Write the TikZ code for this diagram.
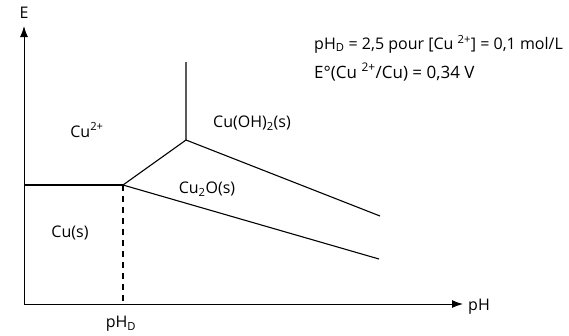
\documentclass[tikz,border=0pt]{standalone}
\usepackage{fontspec}
\setmainfont{Open Sans}
\usetikzlibrary{arrows.meta}
\begin{document}
\begin{tikzpicture}[x=1pt,y=-1pt,
  lbl/.style={font=\fontsize{16}{19}\selectfont, inner sep=0pt},
  top/.style={font=\fontsize{17}{20}\selectfont, inner sep=0pt, anchor=west},
  bound/.style={line width=1.1pt, black},
  axis/.style={line width=1pt, -{Latex[length=11pt,width=8pt]}}]
\useasboundingbox (0,0) rectangle (569,335);
\coordinate (O) at (24,304);
\coordinate (Ytip) at (24,26);
\coordinate (Xtip) at (463,304);
\coordinate (A) at (24,185);
\coordinate (D) at (123,185);
\coordinate (Dbot) at (123,303);
\coordinate (T) at (186,140);
\coordinate (Ttop) at (186,62);
\coordinate (R1) at (380,216);
\coordinate (R2) at (379,259);
\draw[axis] (O) -- (Ytip);
\draw[axis] (O) -- (Xtip);
\node[lbl] (E) at (24,13) {E};
\node[lbl, anchor=west] (pH) at (468,307) {pH};
\draw[bound] (A) -- (D);
\draw[bound, dash pattern=on 6pt off 5pt] (D) -- (Dbot);
\draw[bound] (D) -- (T) -- (Ttop);
\draw[bound] (T) -- (R1);
\draw[bound] (D) -- (R2);
\node[lbl] (cu2) at (87,130) {Cu\textsuperscript{2+}};
\node[lbl] (cuoh) at (252,123) {Cu(OH)\textsubscript{2}(s)};
\node[lbl] (cu2o) at (207,189) {Cu\textsubscript{2}O(s)};
\node[lbl] (cus) at (70,233) {Cu(s)};
\node[lbl] (phd) at (121,324) {pH\textsubscript{D}};
\node[top, font=\fontsize{16}{19}\selectfont] (t1) at (314,44) {pH\textsubscript{D} = 2,5 pour [Cu \textsuperscript{2+}] = 0,1 mol/L};
\node[top] (t2) at (314,72) {E°(Cu \textsuperscript{2+}/Cu) = 0,34 V};
\end{tikzpicture}
\end{document}
